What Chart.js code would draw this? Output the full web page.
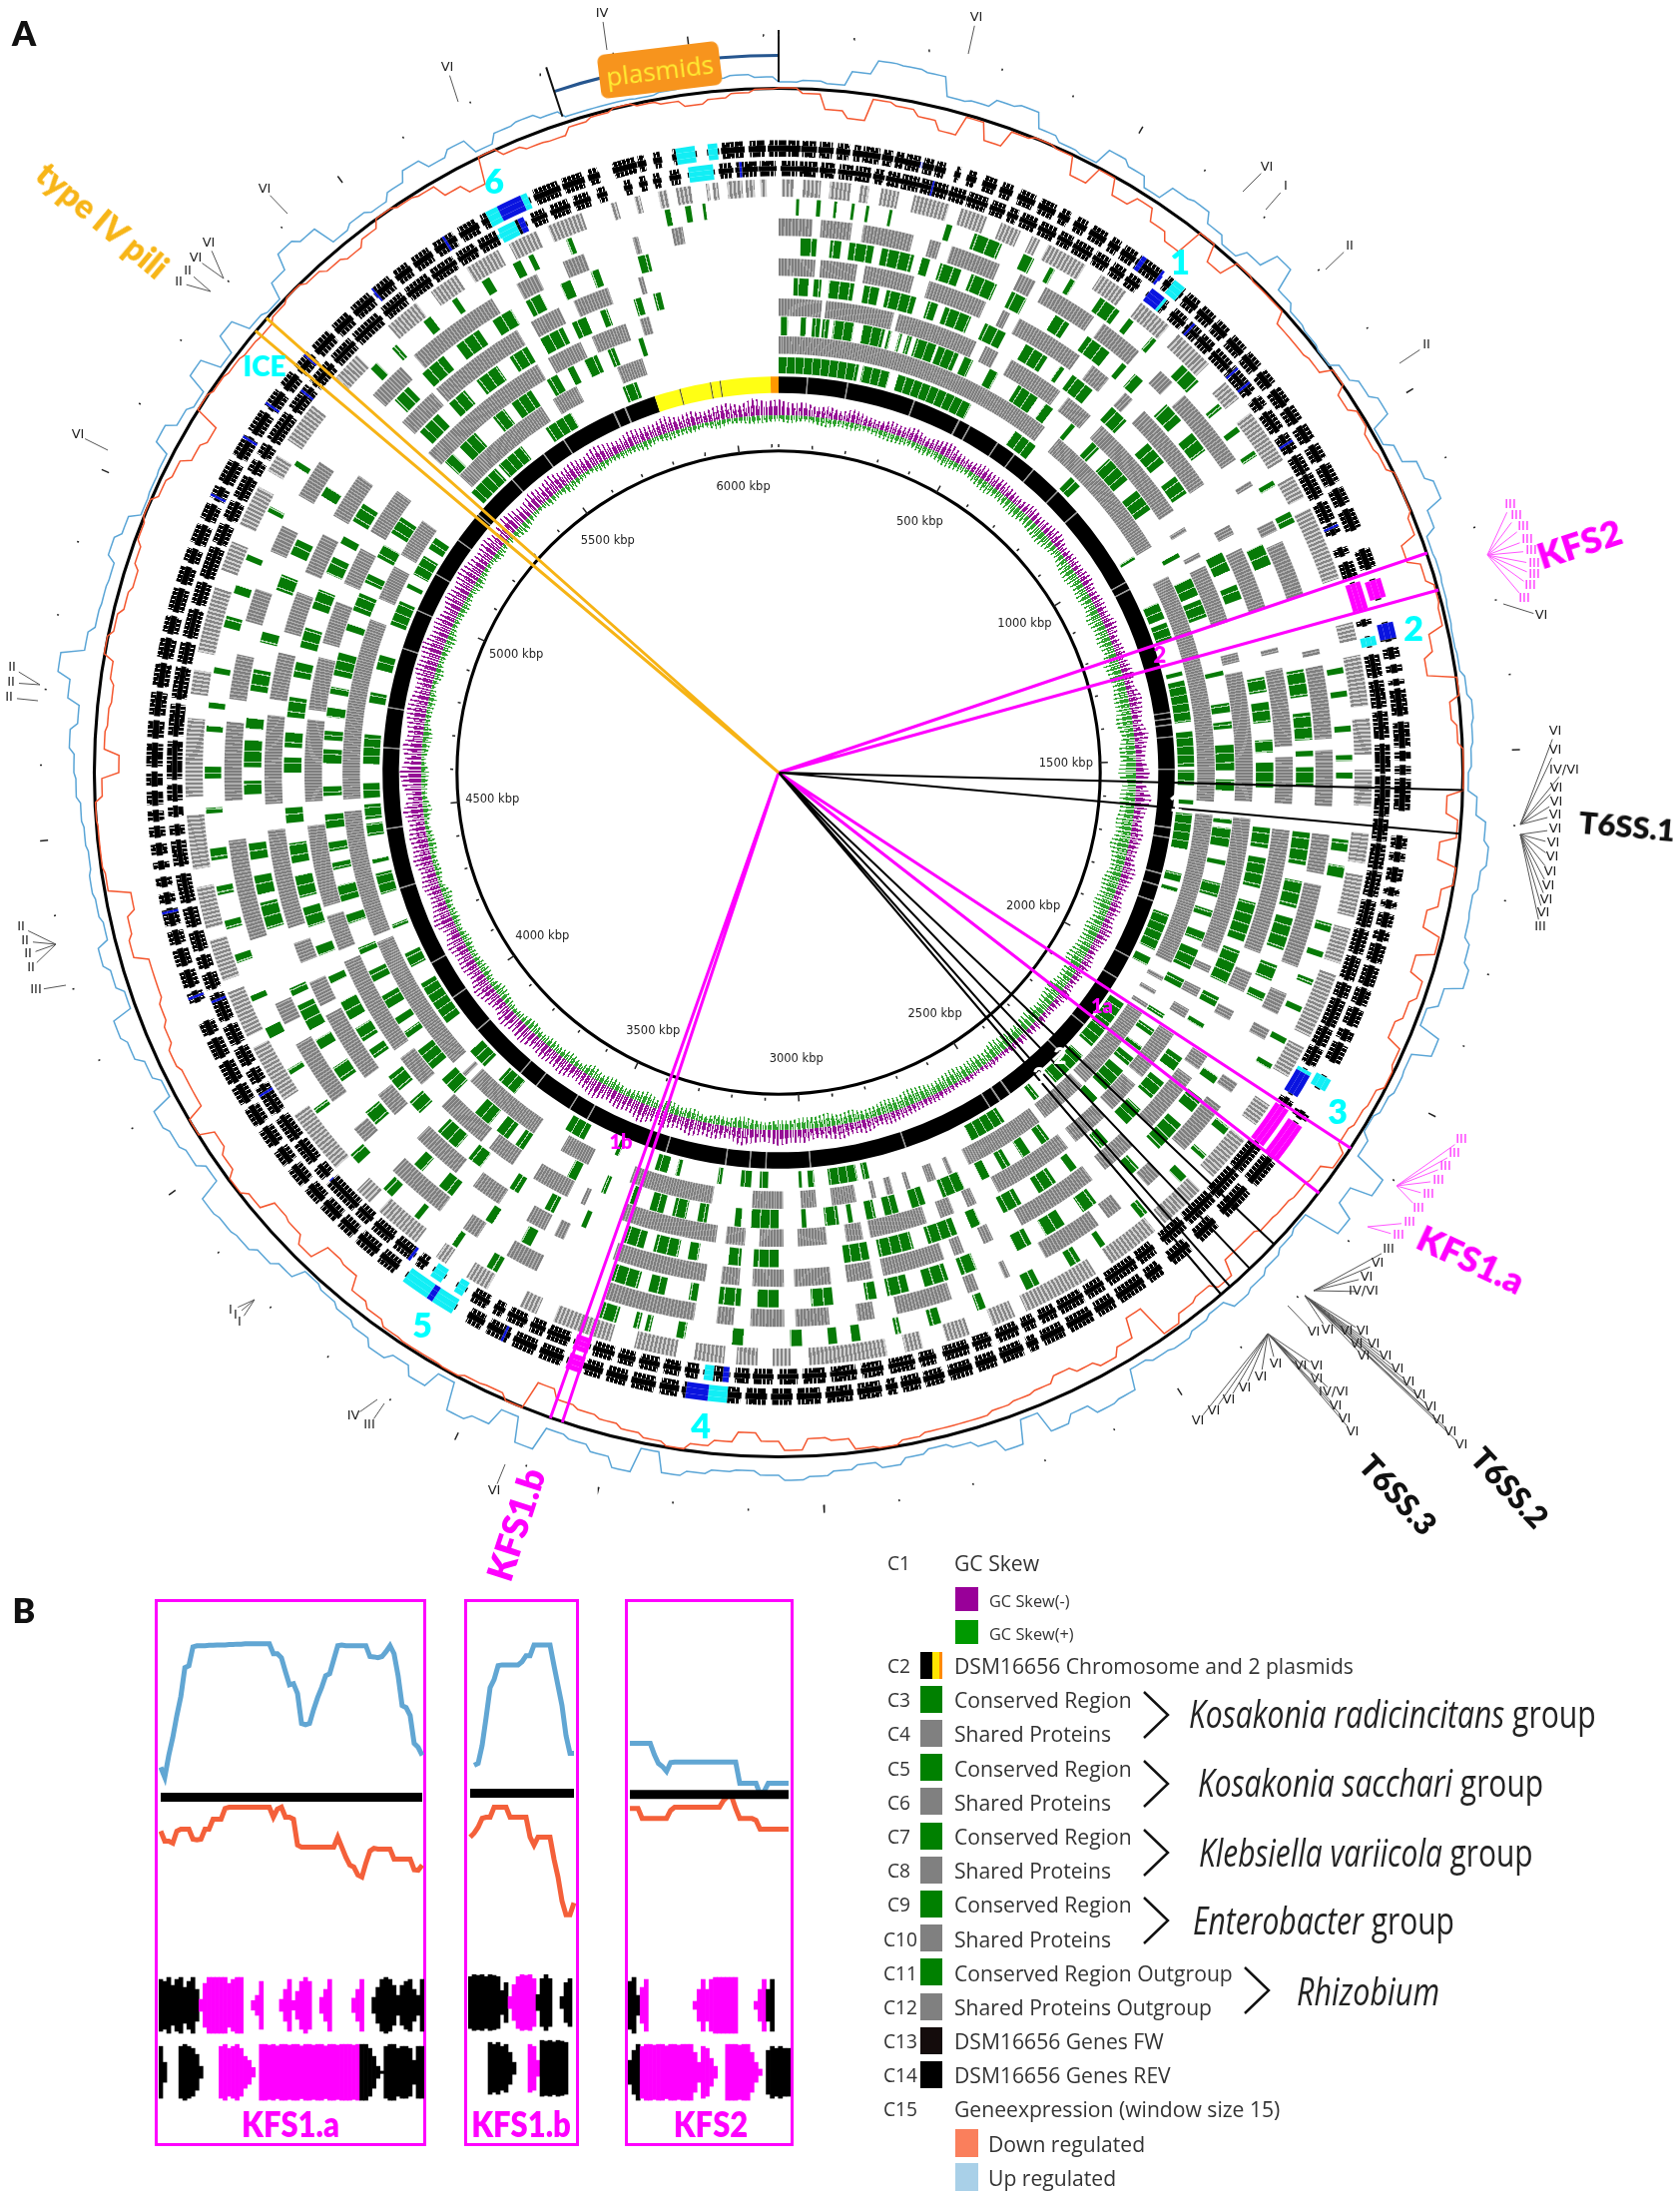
<!DOCTYPE html>
<html lang="en">
<head>
<meta charset="UTF-8">
<title>DSM16656 circular genome</title>
<script src="https://cdnjs.cloudflare.com/ajax/libs/Chart.js/4.4.1/chart.umd.min.js"></script>
<style>
  html, body { margin: 0; background: #fff; }
  #page { position: relative; width: 1683px; height: 2198px; overflow: hidden; font-family: "Open Sans", sans-serif; color: #222; }
  #page canvas { position: absolute; }
  .t { position: absolute; white-space: nowrap; line-height: 1; }
  .box { position: absolute; border: 3px solid #f0f; box-sizing: border-box; }
  .sw { position: absolute; }
</style>
</head>
<body>
<div id="page"></div>
<script>
// genome length and ticks, kbp
const totalKbp = 6120;
const tickKbp = [0,100,200,300,400,500,600,700,800,900,1000,1100,1200,1300,1400,1500,1600,1700,1800,1900,2000,2100,2200,2300,2400,2500,2600,2700,2800,2900,3000,3100,3200,3300,3400,3500,3600,3700,3800,3900,4000,4100,4200,4300,4400,4500,4600,4700,4800,4900,5000,5100,5200,5300,5400,5500,5600,5700,5800,5900,6000,6100];
const labelKbp = [500,1000,1500,2000,2500,3000,3500,4000,4500,5000,5500,6000];

// C2 chromosome, grey seams and plasmid bounds
const chromosomeBreaks = [70,73,170,173,340,343,460,464,490,493,570,573,620,623,680,683,760,763,830,833,1040,1043,1060,1063,1380,1383,1395,1398,1410,1413,1440,1443,1520,1523,1665,1668,1690,1693,1780,1783,1810,1813,1850,1853,2000,2003,2060,2063,2200,2203,2290,2293,2450,2454,2480,2484,2510,2513,2740,2743,2980,2983,3090,3093,3130,3133,3190,3193,3340,3343,3550,3553,3600,3603,3700,3703,3750,3753,3900,3903,4000,4003,4100,4103,4300,4303,4450,4453,4650,4653,4750,4753,4900,4903,5000,5003,5100,5103,5200,5203,5280,5283,5400,5403,5500,5503,5560,5563,5700,5704,5730,5734];
const plasmidOne = [5810,6100];
const plasmidTwo = [6100,6120];
const plasmidLines = [5873,5876,5950,5953,5974,5977];

// conservation rings, [start,end,start,end...] in kbp
const c3 = [0,190,200,265,285,470,590,650,760,790,997,1005,1120,1160,1170,1210,1290,1300,1312,1410,1433,1516,1524,1560,1595,1605,1627,1712,1770,1790,1805,1815,1870,1960,1980,2000,2105,2230,2260,2350,2400,2415,2500,2590,2845,2860,2873,2941,2975,2990,3005,3012,3085,3105,3125,3150,3195,3205,3295,3305,3325,3355,3445,3455,3535,3585,3730,3780,3825,3875,3960,4070,4115,4150,4215,4225,4300,4350,4375,4385,4440,4470,4480,4515,4530,4565,4610,4680,4755,4780,4835,4870,4945,5005,5040,5050,5075,5125,5145,5175,5310,5390,5400,5470,5540,5610,5745,5780];
const c4 = [0,640,680,1000,1075,1595,1625,1970,2005,2015,2040,2050,2075,2085,2100,2300,2310,2420,2435,2620,2660,2670,2700,2720,2760,2770,2800,2815,2840,2850,2885,2940,2975,3010,3050,3120,3210,3400,3500,3570,3640,3825,3840,3850,3880,4200,4216,4503,4530,4940,4990,5070,5100,5190,5320,5560,5590,5650,5750,5810];
const c5 = [5,20,48,60,73,90,95,109,119,163,182,230,238,245,262,268,280,290,300,345,350,396,410,430,470,490,540,590,610,630,680,690,740,760,790,850,880,930,1040,1050,1100,1140,1150,1190,1310,1320,1380,1400,1420,1435,1470,1525,1545,1570,1630,1640,1650,1690,1720,1730,1770,1800,1830,1845,1880,1900,1920,1965,1990,2010,2075,2085,2115,2130,2160,2170,2190,2210,2225,2280,2305,2320,2440,2460,2490,2510,2540,2560,2590,2610,2650,2700,2740,2770,2800,2830,2850,2870,2900,2910,2930,2960,3000,3010,3060,3120,3140,3155,3215,3235,3260,3290,3310,3340,3370,3385,3440,3450,3510,3530,3640,3660,3680,3710,3730,3770,3830,3870,3900,3950,3985,4000,4020,4035,4060,4090,4125,4150,4190,4205,4260,4280,4310,4345,4380,4395,4420,4440,4470,4500,4540,4560,4610,4640,4660,4680,4710,4730,4760,4775,4800,4850,4900,4915,4945,4985,5010,5030,5070,5100,5130,5170,5320,5345,5365,5410,5460,5490,5510,5560,5600,5625,5650,5665,5690,5720,5745,5760,5815,5825];
const c6 = [0,90,98,240,250,420,440,470,500,620,640,700,730,960,1000,1010,1060,1070,1090,1215,1280,1300,1320,1590,1625,1910,1940,1955,1990,2010,2040,2060,2100,2210,2230,2300,2320,2400,2420,2590,2640,2660,2690,2720,2750,2870,2885,2920,2960,3020,3050,3100,3130,3170,3190,3390,3470,3480,3510,3590,3640,3700,3720,3830,3890,3960,3980,4190,4215,4290,4310,4480,4530,4700,4720,4830,4860,4950,4990,5070,5110,5210,5310,5600,5625,5700,5725,5800,5830,5850];
const c7 = [30,60,70,85,100,150,170,200,215,275,300,320,335,390,420,465,510,560,590,600,620,670,720,760,820,870,905,945,1080,1120,1150,1180,1340,1370,1390,1430,1465,1490,1510,1560,1640,1680,1700,1760,1790,1870,1890,1960,1990,2010,2050,2060,2130,2160,2190,2230,2260,2300,2350,2370,2430,2445,2480,2520,2560,2600,2650,2670,2700,2760,2790,2860,2880,2930,3060,3110,3135,3160,3220,3240,3260,3310,3330,3370,3450,3460,3520,3540,3600,3620,3690,3720,3750,3800,3850,3880,3910,3945,3990,4010,4030,4060,4080,4120,4160,4175,4220,4240,4280,4320,4340,4385,4410,4450,4490,4520,4590,4620,4640,4670,4700,4740,4780,4810,4840,4880,4920,4960,4995,5030,5060,5075,5110,5150,5330,5380,5410,5450,5480,5530,5560,5600,5630,5680,5700,5730,5760,5775,5830,5845,5870,5885];
const c8 = [0,70,80,150,165,260,290,405,440,455,475,610,640,680,720,740,770,950,1040,1060,1090,1210,1290,1300,1330,1480,1500,1590,1640,1880,1920,1960,2000,2020,2100,2130,2150,2270,2320,2390,2420,2580,2640,2660,2700,2720,2740,2860,2880,2930,2960,3030,3050,3110,3135,3170,3200,3380,3480,3500,3520,3560,3620,3680,3720,3820,3880,3930,3970,4110,4130,4180,4220,4260,4290,4480,4530,4700,4730,4820,4860,4940,4980,5060,5100,5190,5320,5400,5410,5600,5630,5690,5720,5790,5850,5860];
const c9 = [40,70,95,115,130,175,190,250,265,280,300,340,360,410,440,470,530,560,600,650,680,690,710,730,790,830,860,900,1100,1140,1340,1390,1420,1470,1490,1500,1520,1555,1640,1700,1730,1780,1800,1860,1890,1920,1945,1960,2120,2135,2170,2200,2230,2290,2340,2360,2440,2470,2510,2550,2580,2610,2690,2720,2745,2790,2820,2860,2880,2900,2960,3000,3060,3100,3130,3170,3210,3225,3270,3300,3320,3370,3530,3550,3610,3625,3700,3730,3770,3790,3890,3920,3990,4020,4060,4080,4100,4150,4170,4185,4300,4350,4365,4400,4430,4460,4550,4575,4600,4650,4670,4690,4740,4780,4830,4850,4930,4960,5000,5030,5120,5140,5340,5375,5410,5460,5490,5540,5570,5610,5640,5670,5710,5730,5770,5785,5860,5880];
const c10 = [0,60,75,130,150,240,270,290,310,400,440,470,490,590,610,690,740,770,800,945,990,1000,1070,1090,1110,1210,1310,1320,1340,1470,1490,1590,1640,1710,1730,1880,1930,1970,2000,2020,2110,2130,2160,2260,2320,2350,2410,2440,2460,2570,2640,2650,2700,2720,2750,2850,2890,2920,2970,3030,3050,3110,3140,3170,3210,3370,3500,3560,3620,3650,3700,3810,3880,3910,3970,4090,4130,4170,4290,4470,4540,4680,4720,4800,4860,4920,4990,5040,5100,5170,5320,5390,5420,5590,5640,5680,5730,5770,5860,5870,5930,5950];
const c11 = [30,35,65,72,95,100,125,130,150,155,190,195,290,300,340,390,430,450,480,490,520,530,580,620,640,650,690,700,760,800,850,860,900,910,950,960,1010,1020,1070,1090,1350,1360,1390,1400,1450,1460,1500,1510,1530,1540,1645,1665,1690,1710,1790,1805,1840,1850,1890,1900,1940,1950,2000,2010,2050,2060,2180,2195,2240,2250,2290,2305,2380,2395,2470,2480,2520,2540,2600,2625,2700,2715,2780,2800,2850,2860,2920,2935,2960,2975,3020,3040,3120,3140,3220,3235,3280,3290,3300,3310,3340,3370,3560,3580,3640,3650,3720,3730,3780,3800,3860,3880,3970,3980,4050,4060,4120,4140,4190,4200,4260,4275,4320,4335,4380,4395,4440,4460,4520,4530,4580,4600,4660,4670,4700,4710,4760,4770,4840,4860,4900,4915,4960,4970,5050,5060,5140,5150,5350,5365,5400,5410,5470,5485,5530,5540,5590,5605,5650,5665,5680,5690,5750,5760,5925,5935,5960,5970,5990,5995];
const c12 = [5,25,40,70,85,120,135,150,170,200,225,285,305,350,375,410,430,445,460,530,560,610,640,700,720,790,830,865,895,990,1020,1060,1080,1205,1280,1310,1335,1420,1440,1500,1525,1585,1630,1680,1700,1770,1790,1850,1870,1980,2000,2055,2110,2150,2180,2260,2290,2370,2390,2480,2510,2640,2660,2700,2740,2780,2820,2850,2880,3010,3040,3070,3095,3130,3150,3200,3230,3300,3340,3440,3470,3500,3560,3600,3640,3660,3700,3780,3800,3830,3880,3990,4020,4120,4140,4220,4240,4310,4330,4400,4430,4520,4550,4680,4720,4760,4790,4900,4930,4980,5010,5080,5110,5140,5170,5240,5300,5350,5420,5480,5510,5560,5580,5640,5660,5710,5730,5790,5840,5850,5880,5890,5920,5935,5950,5975,6000,6005,6010,6020,6035,6060,6065,6080,6090,6100];

// gene rings
const c13 = [5,30,34,62,68,90,98,120,124,148,155,170,176,196,200,228,232,275,280,305,310,342,350,372,380,395,402,428,435,462,470,492,498,528,535,560,568,590,598,620,640,675,690,715,722,745,750,775,782,815,820,870,882,900,910,945,955,985,995,1025,1030,1070,1080,1112,1118,1135,1160,1172,1185,1210,1220,1265,1282,1290,1310,1325,1340,1375,1382,1425,1432,1475,1485,1530,1536,1600,1605,1640,1646,1685,1690,1730,1738,1780,1786,1825,1832,1870,1878,1900,1905,1950,1955,1985,1990,2020,2030,2075,2085,2095,2100,2170,2175,2225,2230,2280,2285,2340,2348,2390,2410,2440,2448,2500,2510,2540,2548,2590,2598,2625,2635,2655,2665,2700,2712,2740,2750,2790,2805,2830,2840,2880,2892,2925,2935,2975,2985,3020,3030,3060,3070,3100,3108,3130,3140,3180,3190,3210,3220,3245,3255,3285,3295,3320,3330,3362,3370,3395,3405,3440,3448,3470,3480,3510,3520,3535,3548,3575,3590,3605,3630,3650,3665,3680,3690,3725,3735,3770,3780,3805,3812,3870,3880,3900,3912,3950,3958,4000,4010,4060,4068,4090,4100,4130,4138,4170,4180,4225,4235,4260,4270,4290,4300,4330,4340,4370,4380,4425,4440,4480,4490,4505,4520,4535,4545,4570,4580,4640,4650,4700,4710,4760,4768,4800,4810,4855,4865,4900,4910,4960,4968,5000,5010,5040,5048,5085,5095,5115,5125,5145,5155,5205,5215,5260,5268,5310,5320,5360,5368,5420,5430,5470,5478,5520,5528,5570,5578,5610,5618,5650,5655,5700,5712,5735,5745,5775,5785,5810,5825,5838,5870,5880,5895,5905,5918,5928,5945,5960,5975,6015,6025,6045,6052,6085,6090,6115];
const c14 = [0,12,15,32,37,58,64,84,92,110,118,128,132,158,164,178,184,196,200,222,228,243,248,262,280,286,300,312,326,345,355,372,385,410,420,445,455,470,482,500,510,535,545,560,568,590,596,640,650,682,690,712,720,745,752,775,785,812,820,846,856,880,890,918,925,950,960,985,995,1020,1030,1062,1072,1098,1108,1140,1175,1205,1225,1255,1295,1322,1335,1350,1362,1372,1385,1392,1400,1440,1452,1490,1498,1510,1520,1532,1540,1588,1630,1648,1656,1668,1680,1700,1712,1722,1732,1742,1752,1772,1780,1795,1802,1830,1838,1868,1875,1900,1908,1935,1945,1960,1968,1998,2025,2045,2090,2100,2110,2175,2180,2225,2240,2290,2310,2345,2365,2400,2420,2445,2455,2500,2510,2540,2550,2590,2600,2635,2645,2660,2670,2705,2715,2745,2755,2790,2800,2830,2838,2866,2875,2890,2900,2935,2945,2985,2995,3030,3040,3070,3080,3110,3120,3210,3218,3245,3255,3290,3300,3330,3340,3366,3370,3395,3405,3440,3450,3485,3495,3530,3540,3565,3590,3680,3700,3730,3740,3775,3785,3812,3820,3850,3858,3885,3895,3925,3935,3960,3970,4000,4010,4040,4050,4078,4086,4120,4130,4160,4170,4190,4225,4240,4250,4275,4285,4310,4320,4340,4350,4375,4385,4400,4412,4425,4440,4450,4462,4478,4490,4505,4515,4530,4540,4560,4570,4590,4600,4635,4645,4670,4680,4715,4725,4760,4770,4800,4810,4835,4845,4880,4890,4915,4925,4945,4955,4985,4995,5020,5030,5050,5060,5095,5105,5140,5150,5185,5195,5225,5235,5260,5270,5300,5310,5345,5355,5385,5395,5430,5438,5470,5480,5505,5515,5545,5555,5590,5600,5630,5640,5720,5730,5770,5778,5810,5820,5835,5860,5895,5900,5910,5925,5935,5955,5990,6010,6025,6032,6065,6075,6098,6105,6120];
const c13Blue = [249,252,640,665,726,730,825,829,854,858,969,973,1122,1126,2030,2075,3140,3150,3690,3695,3870,3874,4045,4049,4213,4217,5246,5250,5690,5700,6057,6061];
const c13Cyan = [665,670,1310,1325,2030,2036,3165,3180,3590,3605,3630,3650,5650,5685,5975,6015];
const c13Magenta = [1220,1265,2100,2170,3370,3395];
const c14Blue = [223,227,598,606,636,644,1295,1320,3170,3205,3625,3635,3500,3504,4231,4235,4369,4373,5032,5036,5134,5138,5197,5201,5292,5296,5437,5441,5573,5577,5670,5710];
const c14Cyan = [660,680,2025,2045,3140,3170,3590,3625,3635,3680,5650,5670,5710,5720,5960,5990,6010,6025];
const c14Magenta = [1225,1255,2110,2175,3370,3395];

// C15 expression around the outer circle, one value per 2 degrees
const upRegulated = [6,8,6,20,34,33,31,12,14,22,25,10,5,3,20,15,5,20,22,12,5,15,33,10,4,2,0,8,15,22,3,12,25,32,15,5,6,5,4,3,4,8,12,10,8,5,14,24,29,24,20,21,27,33,15,5,27,8,9,6,2,10,44,22,40,3,6,10,14,17,7,10,14,12,8,28,30,20,28,6,30,18,12,8,12,18,12,16,20,23,18,14,16,20,25,5,30,20,14,11,35,10,28,34,6,23,14,21,14,10,6,3,16,22,28,30,32,10,18,22,26,5,12,20,25,5,12,18,7,10,12,10,12,14,18,20,25,18,30,43,20,14,13,12,20,14,3,4,5,20,10,5,25,5,24,6,3,20,36,30,8,12,8,15,25,15,21,6,15,17,12,5,5,5,4,6,8,12,14,11];
const downRegulated = [0,-5,-20,-27,-5,-8,-14,-23,-3,-20,-3,0,-2,-20,-2,-18,-8,-20,-28,0,-18,0,-2,-2,-14,-14,-12,0,-10,-3,-8,-6,0,-1,-6,-22,-10,-3,-5,-20,-29,0,-10,-5,0,0,-16,-4,-20,-1,-12,-22,-4,-22,-8,-14,-20,-5,-2,-8,-10,-13,-4,-15,-17,-19,-20,-24,-24,-8,-15,-12,-4,-38,-18,-10,-16,-22,-16,-14,-12,-9,-9,-9,-6,-2,-4,-15,-18,-7,-16,-24,-14,-8,-2,-6,-10,-14,-17,-20,-29,0,-6,-5,-2,-3,-3,-4,-9,-14,-28,-30,-12,-20,-22,-8,-2,-10,-16,-1,-18,-18,-15,-20,-24,-28,-28,-14,-18,-26,-4,-2,-2,-1,-8,-25,-10,-12,-14,-10,0,-5,-10,-13,-8,-3,0,-6,-10,-20,-25,0,-3,-5,-7,-8,-4,-1,-5,-10,-14,-8,0,-3,-5,-18,-27,0,-8,-12,-13,-6,-3,0,-3,-6,-12,-8,-4,-1];

// C1 GC skew, one value per 2 degrees
const skewMinus = [16,12,14,10,12,9,14,10,8,12,10,14,9,12,15,10,9,13,11,12,10,8,12,9,11,13,8,10,9,12,8,11,9,13,8,10,9,12,8,14,12,9,15,11,9,14,10,17,12,9,13,10,9,14,11,8,12,9,13,10,8,11,9,7,10,8,6,9,7,8,6,5,7,4,6,5,6,8,7,9,10,12,9,14,11,15,12,10,14,13,16,12,14,18,11,15,13,17,12,16,14,20,13,16,12,18,14,11,16,13,15,12,17,14,18,12,15,19,13,16,14,18,12,20,15,13,17,14,19,16,18,15,21,14,19,22,16,20,15,18,20,17,15,21,18,22,16,19,14,20,16,21,18,15,19,14,20,17,13,18,15,19,14,17,13,18,15,12,16,14,13,17,12,15,11,14,16,12,18,14];
const skewPlus = [6,8,5,7,9,6,8,5,7,9,8,6,9,7,10,8,6,9,11,8,10,12,9,11,13,10,8,12,14,11,13,10,15,12,14,11,16,13,12,15,14,17,12,16,15,18,13,16,14,17,15,19,14,13,17,15,18,12,16,14,15,18,13,12,16,14,11,15,13,12,13,16,11,14,12,15,13,11,14,16,12,14,11,9,13,10,14,11,12,9,10,7,9,12,8,10,6,11,9,12,8,13,9,7,11,8,12,6,10,7,9,6,10,7,5,8,11,6,9,7,6,9,5,8,6,10,4,7,5,8,7,4,9,5,6,8,4,7,10,5,6,8,4,9,5,7,10,5,6,8,5,9,6,4,8,5,7,10,6,4,7,5,9,6,4,8,5,7,6,9,5,8,6,7,4,9,5,6,8,7];

// spokes, kbp pairs
const pinkSpokes = [1212,1267,2096,2174,3373,3391];
const blackSpokes = [1555,1617,2271,2320,2358,2375];
const yellowSpokes = [5273,5297];

// panel B, expression traces relative to the black line and gene heights (black +, magenta -)
const kfs1aUp = [75,50,105,150,205,253,325,330,377,380,380,380,381,381,382,382,382,383,383,384,384,385,385,385,385,385,385,385,360,360,350,315,282,285,260,185,182,185,220,250,275,305,310,345,380,382,380,380,380,380,380,380,353,352,350,353,365,380,360,305,230,225,205,135,125,105];
const kfs1aDown = [-85,-110,-110,-115,-85,-80,-80,-80,-105,-107,-105,-80,-80,-55,-55,-55,-28,-25,-25,-25,-25,-25,-25,-25,-25,-25,-25,-25,-50,-30,-25,-50,-50,-55,-120,-125,-125,-125,-125,-125,-125,-125,-125,-125,-100,-125,-150,-170,-175,-195,-200,-165,-135,-128,-130,-130,-130,-130,-155,-155,-155,-155,-155,-182,-183,-170];
const kfs1aTrackA = [65,60,70,50,65,70,45,60,70,40,-15,-55,-70,-70,-70,-70,-70,-55,-65,-70,-70,0,0,-12,-25,-60,0,0,0,0,-15,-40,-65,-12,-35,-60,-70,-60,0,0,-20,-40,-65,0,0,0,0,0,-18,-40,-65,0,0,20,45,65,70,65,50,25,50,60,65,40,25,65];
const kfs1aTrackB = [65,25,0,0,0,65,70,65,60,45,15,0,0,0,0,-65,-70,-60,-65,-70,-60,-40,-30,-12,0,-70,-70,-68,-70,-66,-70,-70,-68,-70,-70,-66,-70,-70,-68,-70,-70,-66,-70,-70,-68,-70,-70,-70,-68,-70,70,70,60,40,15,3,65,70,70,60,65,65,60,30,65,65];
const kfs1bUp = [null,70,75,120,190,265,285,320,322,322,322,322,322,330,345,345,372,372,372,372,372,320,270,220,145,100,100];
const kfs1bDown = [-110,-100,-85,-63,-60,-60,-35,-35,-35,-35,-60,-60,-60,-60,-60,-110,-130,-110,-110,-110,-110,-165,-210,-270,-305,-305,-275];
const kfs1bTrackA = [65,70,68,70,65,70,68,65,30,50,-15,-45,-65,-70,-68,-70,-60,20,60,70,60,0,0,15,50,60,0];
const kfs1bTrackB = [0,0,0,0,0,65,60,65,55,60,40,15,0,0,0,-60,-55,-20,70,68,70,66,70,68,65,0,0];
const kfs2Up = [128,128,128,128,128,128,100,78,70,58,80,81,81,81,81,81,81,81,81,81,81,81,81,81,81,81,81,28,28,28,28,28,0,8,28,28,28,28,28,28];
const kfs2Down = [-35,-35,-35,-60,-60,-60,-60,-60,-60,-60,-40,-32,-32,-32,-32,-32,-32,-32,-32,-32,-32,-32,-32,-15,-5,-5,-35,-60,-60,-60,-60,-65,-87,-87,-87,-87,-87,-87,-87,-87];
const kfs2TrackA = [60,70,25,-45,-65,0,0,0,0,0,0,0,0,0,0,0,-10,-40,-65,-40,-65,-70,-70,-70,-70,-70,-70,0,0,0,0,-10,-40,-65,40,65,0,0,0,0];
const kfs2TrackB = [30,55,70,-65,-70,-70,-68,-70,-70,-66,-70,-70,-68,-70,-70,-70,-50,-25,-65,-60,-35,-15,0,0,-70,-70,-70,-68,-70,-70,-50,-25,-8,0,55,65,60,65,60,60];

// callouts: label, label x, label y, leader x, leader y (page units)
const blackCallouts = [
  ['IV',603,14,608,50],['VI',448,68,459,102],['VI',265,190,288,214],['VI',209,244,224,279],['VI',196,259,224,279],['II',188,272,211,292],['II',179,283,211,292],['VI',78,436,108,451],['II',12,669,40,686],['II',11,684,40,686],['II',9,699,38,702],
  ['VI',978,18,970,54],['VI',1269,168,1245,192],['I',1288,187,1268,210],['II',1352,247,1328,270],['II',1429,346,1402,364],['VI',1544,617,1506,605],
  ['VI',1558,733,1523,826],['VI',1558,752,1523,826],['IV/VI',1567,772,1523,826],['VI',1559,790,1523,826],['VI',1559,804,1523,826],['VI',1558,817,1523,826],['VI',1558,831,1523,836],['VI',1556,845,1523,836],['VI',1555,859,1523,836],['VI',1553,874,1523,836],['VI',1551,888,1523,836],['VI',1549,902,1523,836],['VI',1546,915,1523,836],['III',1543,929,1523,836],
  ['III',1391,1252,1316,1293],['VI',1380,1266,1316,1293],['VI',1369,1280,1316,1293],['IV/VI',1366,1294,1316,1293],
  ['VI',1316,1335,1290,1308],['VI',1330,1333,1307,1298],['VI',1349,1334,1307,1298],['VI',1365,1334,1307,1298],['VI',1359,1347,1307,1298],['VI',1376,1347,1307,1298],['VI',1366,1359,1307,1298],['VI',1388,1359,1307,1298],['VI',1400,1372,1307,1298],['VI',1411,1385,1307,1298],['VI',1422,1398,1307,1298],['VI',1433,1410,1307,1298],['VI',1441,1423,1307,1298],['VI',1453,1435,1307,1298],['VI',1464,1448,1307,1298],
  ['VI',1200,1424,1270,1336],['VI',1216,1414,1270,1336],['VI',1231,1403,1270,1336],['VI',1247,1391,1270,1336],['VI',1263,1380,1270,1336],['VI',1278,1367,1270,1336],['VI',1303,1369,1270,1336],['VI',1319,1369,1270,1336],['VI',1319,1382,1270,1336],['IV/VI',1336,1395,1270,1336],['VI',1338,1409,1270,1336],['VI',1347,1422,1270,1336],['VI',1355,1435,1270,1336],
  ['II',21,929,56,946],['II',25,943,56,946],['II',28,956,56,946],['II',31,970,56,946],['III',36,992,66,987],
  ['I',231,1313,255,1302],['I',236,1318,255,1302],['I',240,1325,255,1302],['IV',354,1419,378,1402],['III',370,1428,385,1406],['VI',495,1494,506,1467]
];
const pinkCallouts = [
  ['III',1513,506,1490,556],['III',1519,517,1490,556],['III',1526,528,1490,556],['III',1530,541,1490,556],['III',1534,552,1490,556],['III',1537,565,1490,556],['III',1537,576,1490,556],['III',1533,587,1490,556],['III',1527,600,1490,556],
  ['III',1464,1142,1399,1188],['III',1457,1156,1399,1188],['III',1448,1169,1399,1188],['III',1441,1183,1399,1188],['III',1431,1197,1399,1188],['III',1421,1211,1399,1188],
  ['III',1412,1225,1370,1229],['III',1401,1238,1370,1229]
];

// free text on the figure: text, x, y, size, colour, rotation, weight
const figureTexts = [
  ['A',24,32,34,'#111',0,800],['B',24,1612,34,'#111',0,800],
  ['type IV pili',103,220,33,'#f7b517',40,800],
  ['KFS2',1582,544,36,'#ff00ff',-18,800],['T6SS.1',1630,827,31,'#111',5,800],['KFS1.a',1474,1261,36,'#ff00ff',25,800],
  ['T6SS.2',1513,1490,31,'#111',47,800],['T6SS.3',1401,1497,31,'#111',47,800],['KFS1.b',516,1527,36,'#ff00ff',-72,800],
  ['1',1182,261,34,'#00ffff',0,800],['2',1416,628,34,'#00ffff',0,800],['3',1340,1112,34,'#00ffff',0,800],['4',702,1427,34,'#00ffff',0,800],['5',423,1326,34,'#00ffff',0,800],['6',495,180,34,'#00ffff',0,800],['ICE',265,366,28,'#00ffff',0,800],
  ['1',1178,803,24,'#fff',0,800],['2',1062,1057,22,'#fff',0,800],['3',1041,1077,22,'#fff',0,800],
  ['2',1162,655,22,'#ff00ff',0,800],['1a',1104,1007,20,'#ff00ff',0,800],['1b',622,1143,20,'#ff00ff',0,800]
];

// legend
const legendIds = ['C2','C3','C4','C5','C6','C7','C8','C9','C10','C11','C12','C13','C14'];
const legendNames = ['DSM16656 Chromosome  and 2 plasmids','Conserved Region','Shared Proteins','Conserved Region','Shared Proteins','Conserved Region','Shared Proteins','Conserved Region','Shared Proteins','Conserved Region Outgroup','Shared Proteins Outgroup','DSM16656 Genes FW','DSM16656 Genes REV'];
const legendColours = ['#000','#008000','#808080','#008000','#808080','#008000','#808080','#008000','#808080','#008000','#808080','#140c0c','#000'];
const groupItalic = ['Kosakonia radicincitans','Kosakonia sacchari','Klebsiella variicola','Enterobacter','Rhizobium'];
const groupSuffix = [' group',' group',' group',' group',''];
const chevronX = [1146,1146,1146,1146,1247];
const chevronY = [1718,1787,1856,1924,1994];

// ---- geometry of the page
const page = document.getElementById('page');
const cx = 780, cy = 774;
const transparent = 'rgba(0,0,0,0)';

function addCanvas(left, top, w, h) {
  const c = document.createElement('canvas');
  c.width = w; c.height = h;
  c.style.left = left + 'px'; c.style.top = top + 'px';
  c.style.width = w + 'px'; c.style.height = h + 'px';
  page.appendChild(c);
  return c;
}
function addText(txt, x, y, css) {
  const d = document.createElement('div');
  d.className = 't';
  d.textContent = txt;
  d.style.cssText = 'left:' + x + 'px;top:' + y + 'px;' + css;
  page.appendChild(d);
  return d;
}
function polar(kbp, r) {
  const a = kbp / totalKbp * 2 * Math.PI;
  return { x: cx + r * Math.sin(a), y: cy - r * Math.cos(a) };
}
function marksFrom(spans, colour) {
  const out = [];
  for (let i = 0; i < spans.length; i += 2) out.push([spans[i], spans[i + 1], colour]);
  return out;
}
// turn spans into doughnut slices, later marks overpaint earlier ones
function ring(spans, colour, marks, weight) {
  const cuts = new Set([0, totalKbp]);
  spans.forEach(v => cuts.add(v));
  (marks || []).forEach(m => { cuts.add(m[0]); cuts.add(m[1]); });
  const sorted = [...cuts].sort((a, b) => a - b);
  const data = [], cols = [];
  for (let i = 0; i < sorted.length - 1; i++) {
    const mid = (sorted[i] + sorted[i + 1]) / 2;
    let col = transparent;
    for (let s = 0; s < spans.length; s += 2) if (mid >= spans[s] && mid < spans[s + 1]) col = colour;
    if (col !== transparent) (marks || []).forEach(m => { if (mid >= m[0] && mid < m[1]) col = m[2]; });
    if (cols.length && cols[cols.length - 1] === col) data[data.length - 1] += sorted[i + 1] - sorted[i];
    else { data.push(sorted[i + 1] - sorted[i]); cols.push(col); }
  }
  return { data: data, backgroundColor: cols, borderWidth: 0, weight: weight };
}
function spacer(weight) { return { data: [1], backgroundColor: [transparent], borderWidth: 0, weight: weight }; }
// fine radial hairlines, only a fill style for the bands
function hatch(ctx, x, y, colourA, colourB, count, duty) {
  const g = ctx.createConicGradient(0, x, y);
  for (let i = 0; i < count; i++) {
    g.addColorStop(i / count, colourA);
    g.addColorStop((i + duty) / count, colourA);
    g.addColorStop((i + duty) / count, colourB);
    g.addColorStop((i + 1) / count, colourB);
  }
  return g;
}
// gene ring in three layers, arrow tips reach a little further in the middle layer
function geneLayers(spans, marks, feather, weightEdge, weightMid) {
  const wide = [];
  for (let i = 0; i < spans.length; i += 2) {
    wide.push(Math.max(0, spans[i] - 2), Math.min(totalKbp, spans[i + 1] + 2));
  }
  return [ring(spans, feather, marks, weightEdge), ring(wide, '#000', marks, weightMid), ring(spans, feather, marks, weightEdge)];
}

// ---- rings
const ringCanvas = addCanvas(cx - 750, cy - 750, 1500, 1500);
const ringCtx = ringCanvas.getContext('2d');
const green = hatch(ringCtx, 750, 750, '#077a07', '#a9d3a9', 300, 0.88);
const grey = hatch(ringCtx, 750, 750, '#7e7e7e', '#adadad', 1000, 0.6);
const greyOuter = hatch(ringCtx, 750, 750, '#858585', '#cfcfcf', 900, 0.55);
const feather = hatch(ringCtx, 750, 750, '#000', '#fff', 900, 0.84);
const chromoMarks = marksFrom(chromosomeBreaks, '#9a9a9a')
  .concat(marksFrom(plasmidOne, '#ffff14'))
  .concat(marksFrom(plasmidTwo, '#ff9800'))
  .concat(marksFrom(plasmidLines, '#55501a'));
new Chart(ringCanvas, {
  type: 'doughnut',
  data: {
    labels: [],
    datasets: [
      ring([5810, 6120], '#26568f', [], 3), spacer(29),
      ring([0, totalKbp], '#000', [], 3), spacer(49),
      ...geneLayers(c14, marksFrom(c14Blue, '#0a14e0').concat(marksFrom(c14Cyan, '#12eef5')).concat(marksFrom(c14Magenta, '#ff00ff')), feather, 5, 6), spacer(4),
      ...geneLayers(c13, marksFrom(c13Blue, '#0a14e0').concat(marksFrom(c13Cyan, '#12eef5')).concat(marksFrom(c13Magenta, '#ff00ff')), feather, 5, 5), spacer(3),
      ring(c12, greyOuter, [], 17), spacer(2),
      ring(c11, green, [], 16), spacer(3),
      ring(c10, grey, [], 17), spacer(2),
      ring(c9, green, [], 17), spacer(3),
      ring(c8, grey, [], 17), spacer(2),
      ring(c7, green, [], 17), spacer(3),
      ring(c6, grey, [], 17), spacer(1),
      ring(c5, green, [], 18), spacer(1),
      ring(c4, grey, [], 17), spacer(3),
      ring(c3, green, [], 16), spacer(3),
      ring([0, totalKbp], '#000', chromoMarks, 16), spacer(55),
      ring([0, totalKbp], '#000', [], 3)
    ]
  },
  options: {
    responsive: false, animation: false, events: [],
    radius: 720, cutout: 334, rotation: 0,
    plugins: { legend: { display: false }, tooltip: { enabled: false } }
  }
});

// ---- GC skew, fringe drawn as hatched areas on the zero line
const skewCanvas = addCanvas(cx - 400, cy - 400, 800, 800);
const skewCtx = skewCanvas.getContext('2d');
const fringeSet = (values, colour, count, duty) => ({
  data: values, backgroundColor: hatch(skewCtx, 400, 400, colour, transparent, count, duty), borderWidth: 0, fill: { value: 0 }
});
new Chart(skewCanvas, {
  type: 'radar',
  data: {
    labels: skewPlus.map((v, i) => i * 2),
    datasets: [
      fringeSet(skewPlus.map(v => -v), '#2ea32e', 520, 0.35),
      fringeSet(skewPlus.map(v => -v * 0.6), '#2ea32e', 900, 0.55),
      fringeSet(skewMinus, '#951095', 520, 0.35),
      fringeSet(skewMinus.map(v => v * 0.6), '#951095', 900, 0.5)
    ]
  },
  options: {
    responsive: false, animation: false, events: [],
    elements: { point: { radius: 0 }, line: { tension: 0 } },
    scales: { r: { display: false, min: -358, max: 42 } },
    plugins: { legend: { display: false }, tooltip: { enabled: false } }
  }
});

// ---- expression traces around the outer circle, each value held over its window
const held = values => values.flatMap(v => [v, v, v, v]);
new Chart(addCanvas(cx - 760, cy - 760, 1520, 1520), {
  type: 'radar',
  data: {
    labels: held(upRegulated),
    datasets: [
      { data: held(upRegulated), borderColor: '#5aa5d6', borderWidth: 1.5, fill: false },
      { data: held(downRegulated), borderColor: '#f4572f', borderWidth: 1.5, fill: false }
    ]
  },
  options: {
    responsive: false, animation: false, events: [],
    elements: { point: { radius: 0 }, line: { tension: 0 } },
    scales: { r: { display: false, min: -686, max: 74 } },
    plugins: { legend: { display: false }, tooltip: { enabled: false } }
  }
});

// ---- overlay in page units: spokes, ticks, callouts
function spokeData(kbps) {
  const out = [];
  kbps.forEach(k => { out.push({ x: cx, y: cy }, polar(k, 686), { x: NaN, y: NaN }); });
  return out;
}
function tickData(r0, r1, r2, r3) {
  const out = [];
  tickKbp.forEach(k => {
    const major = k % 500 === 0 && k > 0;
    out.push(polar(k, major ? r0 : r1), polar(k, major ? r3 : r2), { x: NaN, y: NaN });
  });
  return out;
}
function calloutData(list) {
  const out = [];
  list.forEach(c => {
    const dx = c[3] - c[1], dy = c[4] - c[2], len = Math.hypot(dx, dy);
    out.push({ x: c[1] + dx / len * 8, y: c[2] + dy / len * 8 }, { x: c[3], y: c[4] }, { x: NaN, y: NaN });
  });
  return out;
}
function chevronData() {
  const out = [];
  chevronX.forEach((x, i) => {
    out.push({ x: x, y: chevronY[i] - 23 }, { x: x + 24, y: chevronY[i] }, { x: x, y: chevronY[i] + 23 }, { x: NaN, y: NaN });
  });
  return out;
}
function lineSet(points, colour, width) {
  return { type: 'line', data: points, borderColor: colour, borderWidth: width, pointRadius: 0, fill: false, tension: 0, spanGaps: false };
}
const bracketEnds = [polar(5810, 692), polar(5810, 744), { x: NaN, y: NaN }, polar(0, 692), polar(0, 744)];
const figureLabels = {
  id: 'figureLabels',
  afterDatasetsDraw(chart) {
    const ctx = chart.ctx, sx = chart.scales.x, sy = chart.scales.y;
    ctx.save();
    ctx.textAlign = 'center'; ctx.textBaseline = 'middle';
    ctx.font = '11.5px "DejaVu Sans"'; ctx.fillStyle = '#222';
    labelKbp.forEach(k => {
      const p = polar(k, 288);
      ctx.fillText(k + ' kbp', sx.getPixelForValue(p.x), sy.getPixelForValue(p.y));
    });
    ctx.font = '13px "DejaVu Sans"'; ctx.fillStyle = '#222';
    blackCallouts.forEach(c => ctx.fillText(c[0], sx.getPixelForValue(c[1]), sy.getPixelForValue(c[2])));
    ctx.fillStyle = '#ff2bff';
    pinkCallouts.forEach(c => ctx.fillText(c[0], sx.getPixelForValue(c[1]), sy.getPixelForValue(c[2])));
    ctx.restore();
  }
};
new Chart(addCanvas(0, 0, 1683, 2198), {
  type: 'scatter',
  data: {
    datasets: [
      lineSet(spokeData(yellowSpokes), '#f6b315', 3),
      lineSet(spokeData(blackSpokes), '#000', 2),
      lineSet(spokeData(pinkSpokes), '#ff00ff', 3),
      lineSet(tickData(322, 326, 329, 330), '#222', 1.5),
      lineSet(tickData(735, 738, 740, 743), '#222', 1.5),
      lineSet(calloutData(blackCallouts), '#555', 1),
      lineSet(calloutData(pinkCallouts), '#ff55ff', 1),
      lineSet(bracketEnds, '#111', 2),
      lineSet(chevronData(), '#111', 2.5)
    ]
  },
  options: {
    responsive: false, animation: false, events: [],
    layout: { padding: 0 },
    scales: {
      x: { type: 'linear', display: false, min: 0, max: 1683 },
      y: { type: 'linear', display: false, min: 0, max: 2198, reverse: true }
    },
    plugins: { legend: { display: false }, tooltip: { enabled: false } }
  },
  plugins: [figureLabels]
});

// ---- panel B
function trackBars(track, centre) {
  return {
    type: 'bar',
    data: track.map(h => h === 0 ? null : [centre - Math.abs(h), centre + Math.abs(h)]),
    backgroundColor: track.map(h => h < 0 ? '#ff00ff' : '#000'),
    barPercentage: 1, categoryPercentage: 1, borderWidth: 0, grouped: false
  };
}
function panelChart(left, width, base, up, down, trackA, trackB, centreA, centreB) {
  new Chart(addCanvas(left, 1602, width, 548), {
    data: {
      labels: up.map((v, i) => i),
      datasets: [
        { type: 'line', data: up.map(() => 0), borderColor: '#000', borderWidth: 9, pointRadius: 0 },
        { type: 'line', data: up, borderColor: '#61a6d3', borderWidth: 5, pointRadius: 0, tension: 0 },
        { type: 'line', data: down, borderColor: '#f4603a', borderWidth: 5, pointRadius: 0, tension: 0 },
        trackBars(trackA, centreA),
        trackBars(trackB, centreB)
      ]
    },
    options: {
      responsive: false, animation: false, events: [],
      layout: { padding: 0 },
      scales: {
        x: { display: false },
        y: { display: false, min: base - 1450, max: base - 78 }
      },
      plugins: { legend: { display: false }, tooltip: { enabled: false } }
    }
  });
}
[[155, 272, 'KFS1.a', 291], [465, 115, 'KFS1.b', 522], [626, 169, 'KFS2', 712]].forEach(b => {
  const d = document.createElement('div');
  d.className = 'box';
  d.style.cssText = 'left:' + b[0] + 'px;top:1602px;width:' + b[1] + 'px;height:548px;';
  page.appendChild(d);
  addText(b[2], b[3], 2127, 'transform:translate(-50%,-50%) scaleX(.86);font:800 36px Lato;color:#ff00ff;');
});
panelChart(159, 266, 575, kfs1aUp, kfs1aDown, kfs1aTrackA, kfs1aTrackB, -522, -690);
panelChart(469, 108, 565, kfs1bUp, kfs1bDown, kfs1bTrackA, kfs1bTrackB, -525, -690);
panelChart(629, 163, 568, kfs2Up, kfs2Down, kfs2TrackA, kfs2TrackB, -529, -697);

// ---- text over the figure
addText('plasmids', 661, 70, 'transform:translate(-50%,-50%) rotate(-7deg);background:#f7941d;color:#ffee33;font:400 26px "Open Sans";padding:4px 7px;border-radius:7px;');
figureTexts.forEach(t => {
  addText(t[0], t[1], t[2], 'transform:translate(-50%,-50%) rotate(' + t[5] + 'deg);font:' + t[6] + ' ' + t[3] + 'px Lato;color:' + t[4] + ';');
});

// ---- legend
const legendFont = 'font:400 22px "Open Sans";color:#333;';
function legendLine(txt, x, y, css) { return addText(txt, x, y, 'transform:translateY(-50%) scaleX(.96);transform-origin:left;' + (css || legendFont)); }
function swatch(x, y, w, h, colour) {
  const d = document.createElement('div');
  d.className = 'sw';
  d.style.cssText = 'left:' + x + 'px;top:' + (y - h / 2) + 'px;width:' + w + 'px;height:' + h + 'px;background:' + colour + ';';
  page.appendChild(d);
}
const smallFont = 'font:400 17px "Open Sans";color:#333;';
const idFont = 'font:400 20px "Open Sans";color:#333;';
legendLine('C1', 889, 1565, idFont); legendLine('GC Skew', 956, 1565);
swatch(957, 1602, 23, 24, '#990099'); legendLine('GC Skew(-)', 991, 1603, smallFont);
swatch(957, 1635, 23, 24, '#009900'); legendLine('GC Skew(+)', 991, 1636, smallFont);
const rowY = 1668, rowStep = 34.2;
legendIds.forEach((id, i) => {
  const y = rowY + i * rowStep;
  legendLine(id, id.length > 2 ? 885 : 889, y, idFont);
  swatch(922, y, 22, 27, legendColours[i]);
  legendLine(legendNames[i], 956, y);
});
swatch(934, rowY, 8, 27, '#ffe400'); swatch(941, rowY, 3, 27, '#ff8a00');
legendLine('C15', 885, 2112, idFont); legendLine('Geneexpression (window size 15)', 956, 2112);
swatch(957, 2147, 23, 28, '#fa7f5c'); legendLine('Down regulated', 990, 2147);
swatch(957, 2181, 23, 28, '#a9d0e8'); legendLine('Up regulated', 990, 2181);

const groupX = [1191, 1200, 1201, 1195, 1299], groupY = [1716, 1785, 1855, 1923, 1994], groupW = [408, 346, 335, 262, 143];
groupItalic.forEach((name, i) => {
  const d = addText('', groupX[i], groupY[i], 'transform:translateY(-50%);transform-origin:left;font:400 38px "Open Sans";color:#222;');
  const em = document.createElement('i');
  em.textContent = name;
  d.appendChild(em);
  d.appendChild(document.createTextNode(groupSuffix[i]));
  d.style.transform = 'translateY(-50%) scaleX(' + (groupW[i] / d.scrollWidth) + ')';
});
</script>
</body>
</html>
